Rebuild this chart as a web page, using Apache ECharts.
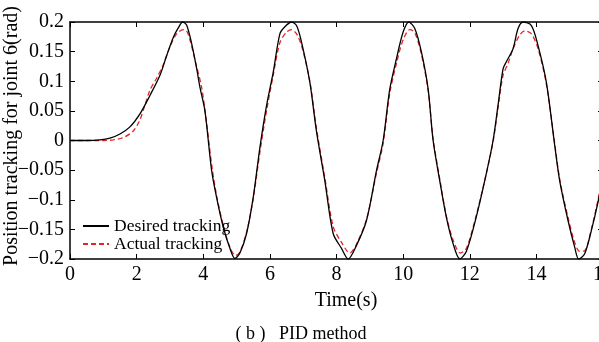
<!DOCTYPE html>
<html>
<head>
<meta charset="utf-8">
<script src="https://cdn.jsdelivr.net/npm/echarts@6/dist/echarts.min.js"></script>
<style>
html,body{margin:0;padding:0;background:#fff;}
#c{width:599px;height:342px;}
</style>
</head>
<body>
<div id="c"></div>
<script>
var xTicks = [0, 2, 4, 6, 8, 10, 12, 14, 16];
var yTicks = [-0.2, -0.15, -0.1, -0.05, 0, 0.05, 0.1, 0.15, 0.2];

var desiredT = [0,0.5,0.9,1.2,1.5,1.8,2.1,2.4,2.7,2.9,3.1,3.25,3.38,3.5,3.65,3.8,3.9,4.05,4.25,4.4,4.6,4.8,4.95,5.1,5.3,5.5,5.7,5.9,6.1,6.3,6.45,6.65,6.8,6.95,7.2,7.4,7.65,7.9,8.15,8.35,8.6,8.9,9.2,9.4,9.6,9.8,10.0,10.17,10.35,10.55,10.75,10.9,11.1,11.3,11.5,11.7,11.9,12.2,12.5,12.7,12.85,13.0,13.1,13.3,13.45,13.6,13.85,14.05,14.3,14.55,14.7,14.95,15.15,15.27,15.45,15.65,15.85,16.0];
var desiredY = [0,0,0.001,0.004,0.011,0.023,0.045,0.076,0.11,0.143,0.174,0.19,0.2,0.195,0.164,0.122,0.09,0.05,-0.05,-0.096,-0.146,-0.182,-0.199,-0.19,-0.157,-0.096,-0.012,0.059,0.115,0.18,0.192,0.2,0.194,0.166,0.098,0.015,-0.068,-0.157,-0.182,-0.2,-0.177,-0.135,-0.051,0.0,0.087,0.138,0.183,0.2,0.189,0.149,0.087,0.0,-0.068,-0.13,-0.174,-0.2,-0.187,-0.128,-0.055,0.0,0.06,0.121,0.133,0.155,0.189,0.2,0.194,0.16,0.098,-0.008,-0.068,-0.135,-0.18,-0.2,-0.191,-0.152,-0.104,-0.06];

var actualT = [0,0.5,1.0,1.3,1.6,1.9,2.1,2.25,2.4,2.6,2.8,3.0,3.2,3.4,3.5,3.6,3.8,3.95,4.1,4.25,4.4,4.6,4.8,4.97,5.1,5.3,5.5,5.7,5.9,6.1,6.3,6.5,6.65,6.8,6.95,7.2,7.4,7.65,7.9,8.15,8.4,8.6,8.9,9.2,9.4,9.6,9.8,10.0,10.2,10.35,10.55,10.75,10.9,11.1,11.3,11.5,11.72,11.9,12.2,12.5,12.7,12.85,13.0,13.15,13.3,13.5,13.65,13.85,14.05,14.3,14.55,14.7,14.95,15.15,15.3,15.45,15.65,15.85,16.0];
var actualY = [0,0,0,0.001,0.005,0.016,0.035,0.06,0.085,0.105,0.128,0.158,0.18,0.187,0.185,0.17,0.125,0.09,0.03,-0.04,-0.093,-0.143,-0.18,-0.194,-0.188,-0.155,-0.098,-0.02,0.05,0.11,0.165,0.183,0.187,0.18,0.16,0.1,0.02,-0.063,-0.145,-0.172,-0.19,-0.175,-0.133,-0.055,-0.005,0.08,0.13,0.17,0.187,0.182,0.145,0.085,0.003,-0.065,-0.128,-0.168,-0.19,-0.182,-0.125,-0.055,-0.002,0.055,0.11,0.13,0.155,0.178,0.185,0.18,0.155,0.095,-0.005,-0.065,-0.13,-0.172,-0.187,-0.186,-0.15,-0.1,-0.058];

function pairs(t, y) { return t.map(function (v, i) { return [v, y[i]]; }); }

var FONT = '"Liberation Serif", "DejaVu Serif", serif';
var chart = echarts.init(document.getElementById('c'), null, {renderer: 'canvas'});

var axisLineStyle = {color: '#000', width: 1.5};
chart.setOption({
  animation: false,
  backgroundColor: '#fff',
  grid: {left: 70, top: 22, width: 533, height: 237, containLabel: false, outerBoundsMode: 'none'},
  legend: {
    orient: 'vertical', left: 77, top: 212, itemWidth: 26, itemHeight: 14, itemGap: 0,
    itemStyle: {opacity: 0},
    textStyle: {fontFamily: FONT, fontSize: 17.5, color: '#000', lineHeight: 18},
    data: ['Desired tracking', 'Actual tracking']
  },
  xAxis: [{
    type: 'value', min: xTicks[0], max: xTicks[xTicks.length - 1], interval: 2, position: 'bottom',
    axisLine: {onZero: false, lineStyle: axisLineStyle},
    axisTick: {inside: true, length: 5, lineStyle: {color: '#000'}},
    axisLabel: {margin: 6, color: '#000', fontFamily: FONT, fontSize: 20},
    splitLine: {show: false}
  }, {
    type: 'value', min: xTicks[0], max: xTicks[xTicks.length - 1], interval: 2, position: 'top',
    axisLine: {onZero: false, lineStyle: axisLineStyle},
    axisTick: {inside: true, length: 5, lineStyle: {color: '#000'}},
    axisLabel: {show: false}, splitLine: {show: false}
  }],
  yAxis: [{
    type: 'value', min: yTicks[0], max: yTicks[yTicks.length - 1], interval: 0.05, position: 'left',
    axisLine: {onZero: false, lineStyle: axisLineStyle},
    axisTick: {inside: true, length: 5, lineStyle: {color: '#000'}},
    axisLabel: {margin: 6, color: '#000', fontFamily: FONT, fontSize: 20,
      formatter: function (v) { return String(parseFloat(v.toFixed(2))).replace('-', '\u2212'); }},
    splitLine: {show: false}
  }, {
    type: 'value', min: yTicks[0], max: yTicks[yTicks.length - 1], interval: 0.05, position: 'right',
    axisLine: {onZero: false, lineStyle: axisLineStyle},
    axisTick: {inside: true, length: 5, lineStyle: {color: '#000'}},
    axisLabel: {show: false}, splitLine: {show: false}
  }],
  series: [{
    name: 'Desired tracking', type: 'line', symbol: 'none', smooth: 0.3,
    data: pairs(desiredT, desiredY),
    lineStyle: {color: '#000', width: 1.3},
    itemStyle: {color: '#000'}, z: 3
  }, {
    name: 'Actual tracking', type: 'line', symbol: 'none', smooth: 0.3,
    data: pairs(actualT, actualY),
    lineStyle: {color: '#e0262b', width: 1.3, type: [5, 3]},
    itemStyle: {color: '#e0262b'}, z: 2
  }],
  graphic: [{
    type: 'text', x: 12, y: 136, rotation: Math.PI / 2,
    style: {text: 'Position tracking for joint 6(rad)', fontFamily: FONT, fontSize: 20, fill: '#000',
      align: 'center', verticalAlign: 'middle'}
  }, {
    type: 'text', x: 346, y: 301,
    style: {text: 'Time(s)', fontFamily: FONT, fontSize: 20, fill: '#000', align: 'center', verticalAlign: 'middle'}
  }, {
    type: 'text', x: 301, y: 334,
    style: {text: '( b )   PID method', fontFamily: FONT, fontSize: 18, fill: '#000', align: 'center', verticalAlign: 'middle'}
  }]
});
</script>
</body>
</html>
